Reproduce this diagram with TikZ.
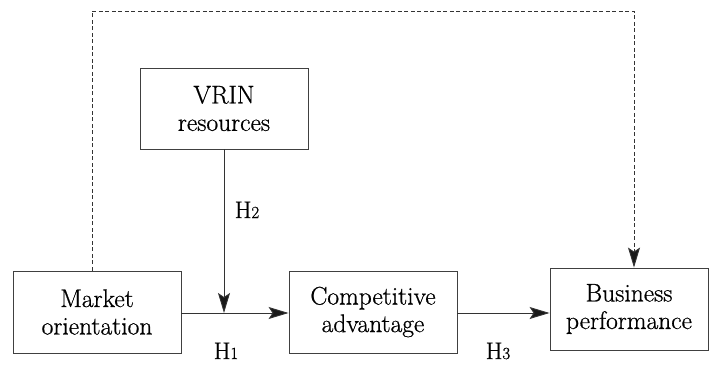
\documentclass[tikz,border=0pt]{standalone}
\usepackage{fontspec}
\setmainfont{Latin Modern Roman}[FakeBold=0.7]
\usetikzlibrary{arrows.meta}
\newcommand{\hyp}[1]{H{\fontsize{17}{20}\selectfont #1}}
\begin{document}
\begin{tikzpicture}[x=1pt,y=-1pt,
  box/.style={draw=black!75,line width=0.9pt,minimum width=168pt,minimum height=82pt,align=center,inner sep=0pt,
    font=\fontsize{25.5}{27.5}\selectfont},
  lab/.style={font=\fontsize{24}{27}\selectfont,inner sep=0pt,anchor=base},
  conn/.style={draw=black!80,line width=0.9pt,-{Stealth[length=20pt,width=12pt,inset=4pt,fill=black!90]}}]
\useasboundingbox (0,0) rectangle (709,364);
\node[box] (mkt) at (97,312) {Market\\orientation};
\node[box,minimum height=81pt] (vrin) at (224,108.5) {VRIN\\resources};
\node[box] (comp) at (373,312) {Competitive\\advantage};
\node[box,minimum width=158pt] (biz) at (629,309) {Business\\performance};
\coordinate (j) at (224,313);
\coordinate (d1) at (92,11);
\coordinate (d2) at (634,11);
\draw[line width=0.9pt,draw=black!80] (mkt.east |- j) -- (j);
\draw[conn] (j) -- (comp.west |- j);
\draw[conn] (vrin.south) -- (j);
\draw[conn] (comp.east |- j) -- (biz.west |- j);
\draw[conn,dash pattern=on 4pt off 2.5pt] (mkt.north -| d1) -- (d1) -- (d2) -- (d2 |- biz.north);
\node[lab] (h2) at (247,218) {\hyp{2}};
\node[lab] (h1) at (226,359) {\hyp{1}};
\node[lab] (h3) at (498,359) {\hyp{3}};
\end{tikzpicture}
\end{document}
